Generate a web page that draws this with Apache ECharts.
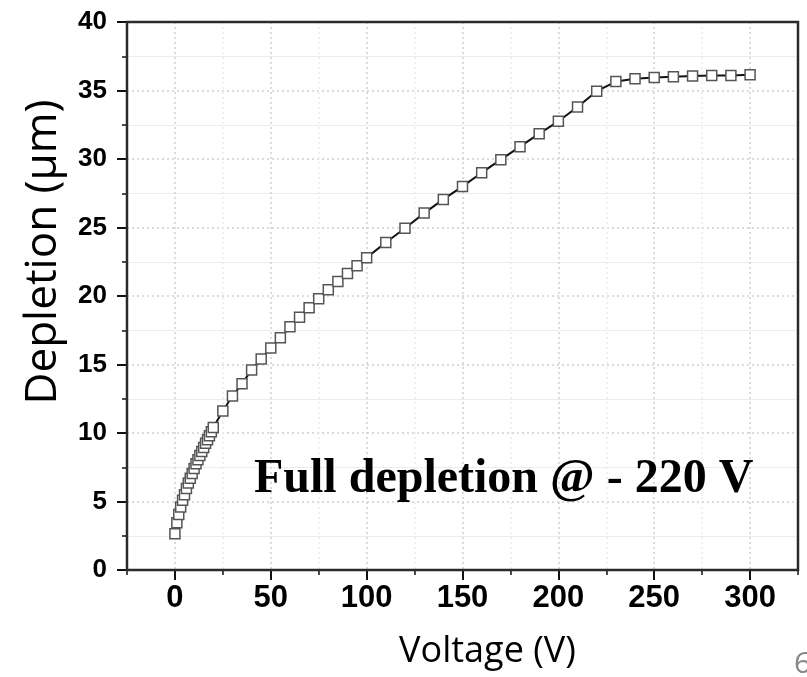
<!DOCTYPE html>
<html>
<head>
<meta charset="utf-8">
<script src="https://cdn.jsdelivr.net/npm/echarts@6/dist/echarts.min.js"></script>
<style>
html,body{margin:0;padding:0;background:#fff;}
#chart{width:807px;height:677px;}
</style>
</head>
<body>
<div id="chart"></div>
<script>
// Data
const voltage = [0,1,2,3,4,5,6,7,8,9,10,11,12,13,14,15,16,17,18,19,20,
  25,30,35,40,45,50,55,60,65,70,75,80,85,90,95,100,
  110,120,130,140,150,160,170,180,190,200,210,220,230,240,250,260,270,280,290,300];
const depletion = [2.65,3.45,4.05,4.6,5.1,5.5,5.95,6.35,6.7,7.05,7.4,7.75,8.05,8.35,8.65,8.95,9.25,9.5,9.8,10.1,10.4,
  11.6,12.7,13.6,14.6,15.4,16.2,16.95,17.75,18.45,19.15,19.8,20.45,21.05,21.65,22.2,22.8,
  23.9,24.95,26.05,27.05,28.0,29.0,29.95,30.9,31.85,32.75,33.8,34.95,35.65,35.85,35.95,36.0,36.05,36.1,36.1,36.15];
const xTickLabels = [0,50,100,150,200,250,300];
const xTitle = 'Voltage (V)';
const yTitle = 'Depletion (µm)';
const annotation = 'Full depletion @ - 220 V';
const pageNumber = '6';

const chart = echarts.init(document.getElementById('chart'), null, {renderer:'canvas'});
const seriesData = voltage.map((v,i)=>[v, depletion[i]]);

const option = {
  backgroundColor:'#ffffff',
  animation:false,
  grid:{left:127, right:9, top:22, bottom:107, show:true, borderColor:'#2a2a2a', borderWidth:2.5, backgroundColor:'transparent', z:4},
  xAxis:[{
    type:'value', min:-25, max:325, interval:25, position:'bottom',
    axisLine:{show:true, onZero:false, lineStyle:{color:'#111', width:2}},
    axisTick:{show:true, length:5, lineStyle:{color:'#111', width:1.5}},
    axisLabel:{show:false},
    splitLine:{show:true, lineStyle:{color:['#ececec','#cfcfcf'], type:[2,3], width:1.5}},
    name:xTitle, nameLocation:'middle', nameGap:64,
    nameTextStyle:{fontFamily:'Open Sans', fontSize:36, color:'#000', padding:[0,0,0,50]}
  },{
    type:'value', min:-25, max:325, position:'bottom', offset:0,
    axisLine:{show:false},
    axisTick:{show:true, length:10, customValues:xTickLabels, lineStyle:{color:'#111', width:2}},
    axisLabel:{show:true, customValues:xTickLabels, fontFamily:"'Liberation Sans Narrow', 'Arial Narrow', 'Liberation Sans', Arial, sans-serif", fontWeight:'bold', fontSize:31, color:'#000', margin:13},
    splitLine:{show:false}
  }],
  yAxis:{
    type:'value', min:0, max:40, interval:5, position:'left',
    axisLine:{show:true, onZero:false, lineStyle:{color:'#111', width:2}},
    axisTick:{show:true, length:10, lineStyle:{color:'#111', width:2}},
    minorTick:{show:true, splitNumber:2, length:5, lineStyle:{color:'#111', width:1.5}},
    splitLine:{show:true, lineStyle:{color:'#cfcfcf', type:[2,3], width:1.5}},
    minorSplitLine:{show:true, lineStyle:{color:'#ececec', width:1}},
    axisLabel:{fontFamily:"'Liberation Sans', Arial, sans-serif", fontWeight:'bold', fontSize:26, color:'#000', margin:20},
    name:yTitle, nameLocation:'middle', nameGap:62,
    nameTextStyle:{fontFamily:'Open Sans', fontSize:44, color:'#000', padding:[0,0,0,88]}
  },
  series:[{
    type:'line', xAxisIndex:0, yAxisIndex:0,
    data:seriesData,
    symbol:'rect', symbolSize:10,
    lineStyle:{color:'#111', width:2},
    itemStyle:{color:'#ffffff', borderColor:'#555', borderWidth:1.5},
    z:5
  }],
  graphic:[
    {type:'text', x:254, y:480, style:{text:annotation, font:"bold 48px 'Liberation Serif', 'Times New Roman', serif", fill:'#000', verticalAlign:'middle'}, z:10},
    {type:'text', x:794, y:664, style:{text:pageNumber, font:"30px 'Open Sans', sans-serif", fill:'#888', verticalAlign:'middle'}, z:10}
  ]
};
chart.setOption(option);
</script>
</body>
</html>
